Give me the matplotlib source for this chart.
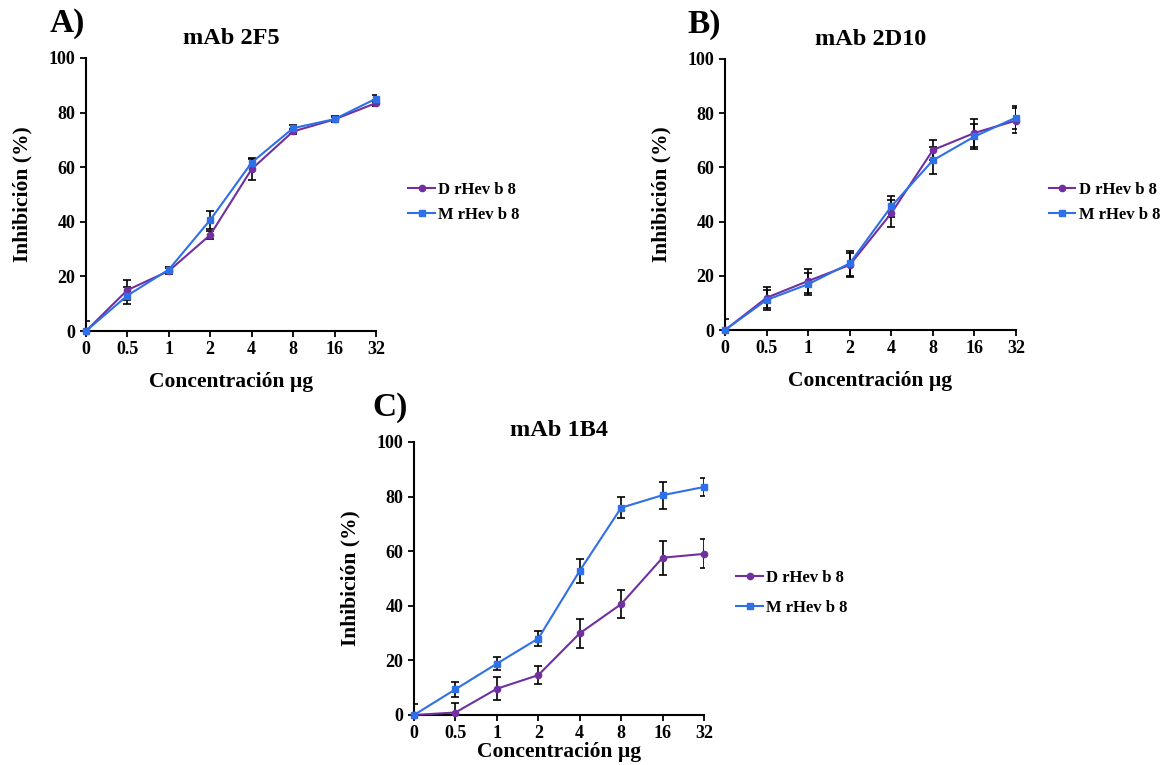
import matplotlib
matplotlib.use("Agg")
import matplotlib.pyplot as plt

plt.rcParams['font.family'] = ['Liberation Serif', 'DejaVu Serif']
plt.rcParams['font.weight'] = 'bold'

conc = ["0", "0.5", "1", "2", "4", "8", "16", "32"]

# mAb 2F5
a_d = [0, 15, 22, 35.2, 59.3, 73.1, 77.5, 83.5]
a_d_err = [3.5, 3.7, 1.0, 1.5, 4.0, 1.0, 1.0, 1.0]
a_m = [0, 13, 22.5, 40.7, 61.7, 74.3, 77.6, 85.1]
a_m_err = [0, 3.0, 1.0, 3.3, 1.3, 1.0, 1.0, 1.3]

# mAb 2D10
b_d = [0, 11.9, 18.1, 24.0, 43.1, 66.4, 72.7, 77.3]
b_d_err = [4.0, 3.8, 4.5, 4.5, 5.0, 3.7, 5.0, 4.5]
b_m = [0, 11.1, 16.9, 24.6, 45.6, 62.6, 71.4, 78.4]
b_m_err = [0, 3.8, 4.0, 4.5, 4.0, 5.0, 4.7, 4.2]

# mAb 1B4
c_d = [0, 0.9, 9.6, 14.6, 29.9, 40.6, 57.6, 59.0]
c_d_err = [4.0, 3.6, 4.2, 3.3, 5.2, 5.0, 6.2, 5.3]
c_m = [0, 9.4, 18.8, 28.0, 52.8, 75.9, 80.5, 83.5]
c_m_err = [0, 2.7, 2.3, 2.8, 4.4, 3.8, 5.0, 3.4]

purple = "#7030A0"
blue = "#2F6FE8"

fig = plt.figure(figsize=(11.6, 7.65), dpi=100)


def panel(rect, letter, title, d, d_err, m, m_err, leg_y, leg_sp, xpad, tpad, lx):
    ax = fig.add_axes(rect)
    x = list(range(len(conc)))
    ax.errorbar(x, d, yerr=d_err, fmt="none", ecolor="black", elinewidth=1.2,
                capsize=3, capthick=1.2, zorder=2)
    ax.errorbar(x, m, yerr=m_err, fmt="none", ecolor="black", elinewidth=1.2,
                capsize=3, capthick=1.2, zorder=2)
    ax.plot(x, d, color=purple, marker="o", markersize=4.5, lw=1.5,
            label="D rHev b 8", zorder=3, clip_on=False)
    ax.plot(x, m, color=blue, marker="s", markersize=4.5, lw=1.5,
            label="M rHev b 8", zorder=4, clip_on=False)
    ax.set_xlim(0, 7)
    ax.set_ylim(0, 100)
    ax.set_xticks(x)
    ax.set_xticklabels(conc)
    ax.set_yticks([0, 20, 40, 60, 80, 100])
    for s in ["top", "right"]:
        ax.spines[s].set_visible(False)
    for s in ["left", "bottom"]:
        ax.spines[s].set_linewidth(1.5)
    ax.tick_params(direction="out", length=4, width=1.3, labelsize=13)
    for t in ax.get_xticklabels() + ax.get_yticklabels():
        t.set_fontweight("bold")
    ax.set_ylabel("Inhibición (%)", fontsize=15.5, fontweight="bold", labelpad=12)
    ax.set_xlabel("Concentración µg", fontsize=15.5, fontweight="bold", labelpad=xpad)
    ax.set_title(title, fontsize=17.5, fontweight="bold", pad=tpad)
    ax.text(lx, 1.07, letter, transform=ax.transAxes, fontsize=24,
            fontweight="bold", ha="left", va="bottom")
    ax.legend(loc="center left", bbox_to_anchor=(1.06, leg_y), frameon=False,
              prop={"size": 12, "weight": "bold"}, handlelength=1.6,
              handletextpad=0.2, labelspacing=leg_sp)
    return ax


panel([0.0741, 0.5673, 0.25, 0.3569], "A)", "mAb 2F5",
      a_d, a_d_err, a_m, a_m_err, 0.47, 0.55, 10, 10, -0.125)
panel([0.625, 0.5686, 0.2509, 0.3543], "B)", "mAb 2D10",
      b_d, b_d_err, b_m, b_m_err, 0.47, 0.55, 10, 10, -0.13)
panel([0.3569, 0.0654, 0.25, 0.3569], "C)", "mAb 1B4",
      c_d, c_d_err, c_m, c_m_err, 0.447, 0.85, 0, 4, -0.145)

fig.savefig("out.png", dpi=100)
